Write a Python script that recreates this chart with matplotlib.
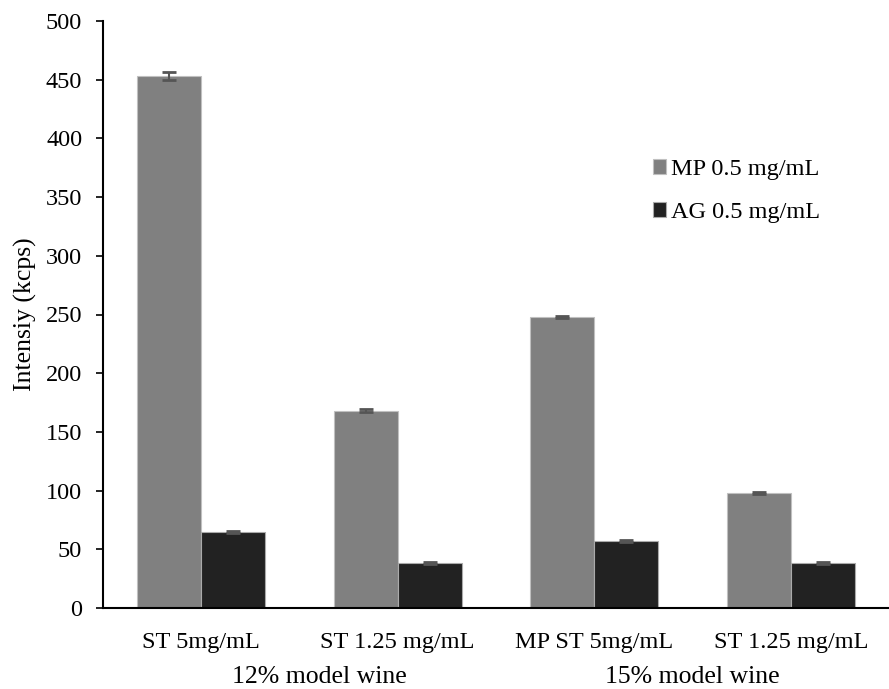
import matplotlib
matplotlib.use("Agg")
import matplotlib.pyplot as plt
import matplotlib.transforms as mtransforms
import numpy as np

plt.rcParams['font.family'] = ['Liberation Serif', 'DejaVu Serif']

categories = ["ST 5mg/mL", "ST 1.25 mg/mL", "MP ST 5mg/mL", "ST 1.25 mg/mL"]
groups = ["12% model wine", "15% model wine"]
group_pos = [0.6, 2.5]
series_names = ["MP 0.5 mg/mL", "AG 0.5 mg/mL"]
mp_values = [453, 168, 248, 98]
mp_err = [3.5, 1.2, 1.0, 0.8]
ag_values = [65, 38, 57, 38]
ag_err = [0.8, 0.8, 0.8, 0.8]

fig = plt.figure(figsize=(8.89, 6.89), dpi=100)
ax = fig.add_axes([103/889, 1-608/689, 786/889, 587/689])

x = np.arange(len(categories))
w = 0.325
ekw = dict(ecolor='#555555', elinewidth=1.5, capsize=5, capthick=2)
ax.bar(x - w/2, mp_values, w, yerr=mp_err, color='#808080', edgecolor='#c0c0c0',
       linewidth=0.8, label=series_names[0], error_kw=ekw)
ax.bar(x + w/2, ag_values, w, yerr=ag_err, color='#222222', edgecolor='#aaaaaa',
       linewidth=0.8, label=series_names[1], error_kw=ekw)

ax.set_xlim(-0.5, len(categories) - 0.5)
ax.set_ylim(0, 500)
ax.set_yticks(np.arange(0, 501, 50))
ax.set_xticks(x)
ax.set_xticklabels(categories, fontsize=17.5)
ax.tick_params(axis='x', length=0, pad=17)
ax.tick_params(axis='y', direction='out', length=5, width=1.2, labelsize=17.5, pad=10)
ax.spines['top'].set_visible(False)
ax.spines['right'].set_visible(False)
ax.spines['left'].set_linewidth(1.5)
ax.spines['bottom'].set_linewidth(1.5)
ax.set_ylabel("Intensiy (kcps)", fontsize=18.5, labelpad=6)

trans = mtransforms.blended_transform_factory(ax.transData, fig.transFigure)
for g, p in zip(groups, group_pos):
    ax.text(p, 1 - 677/689, g, ha='center', va='center', fontsize=18.5,
            transform=trans, clip_on=False)

leg = ax.legend(loc='center left', bbox_to_anchor=(0.672, 0.71), frameon=False,
                fontsize=17.5, handlelength=0.55, handleheight=0.55, handletextpad=0.2,
                labelspacing=0.9)

fig.savefig("out.png", dpi=100)
